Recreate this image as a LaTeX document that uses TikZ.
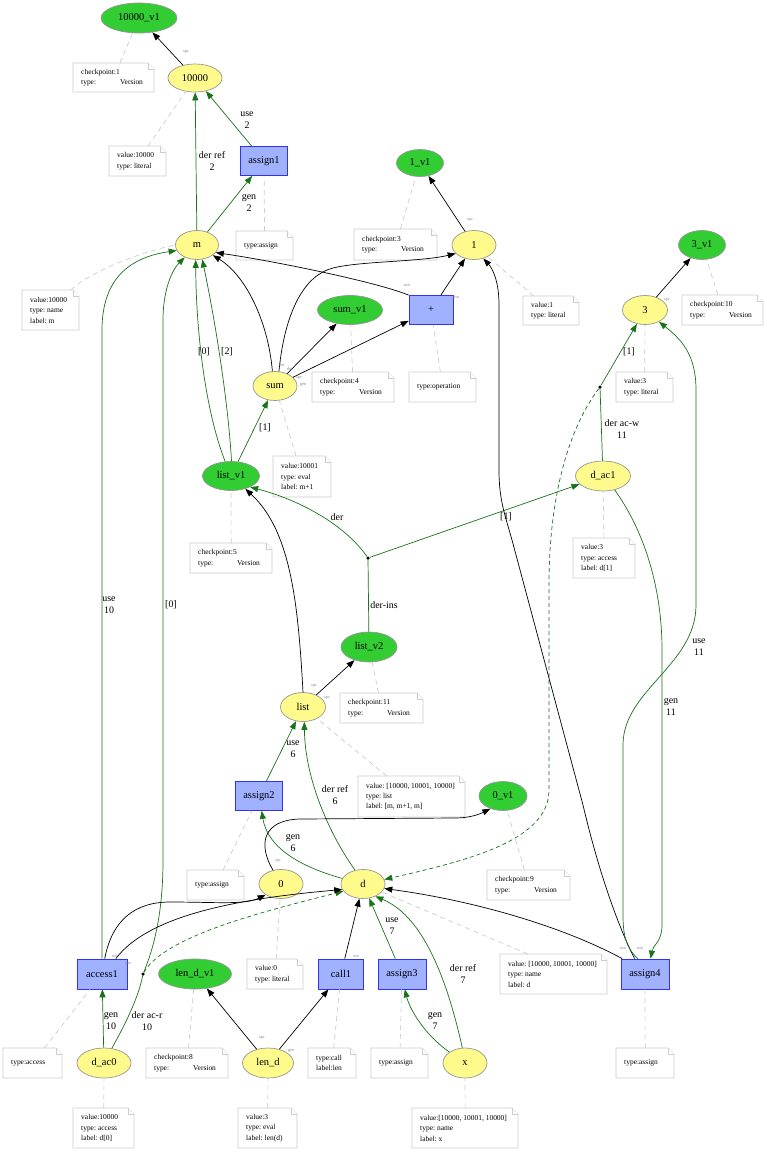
\documentclass[tikz,border=0pt]{standalone}
\usepackage{fontspec}
\setmainfont{Liberation Serif}
\usetikzlibrary{shapes.geometric,arrows.meta}
\definecolor{ylw}{RGB}{255,250,140}
\definecolor{grn}{RGB}{50,205,50}
\definecolor{bfill}{RGB}{160,178,255}
\definecolor{bdraw}{RGB}{50,50,240}
\definecolor{ngray}{RGB}{150,150,150}
\definecolor{eg}{RGB}{25,115,25}
\definecolor{notegray}{RGB}{205,205,205}
\definecolor{tinygray}{RGB}{140,140,140}
\tikzset{
  base/.style={inner sep=0pt, line width=0.7bp, font=\fontsize{10.5}{12}\selectfont},
  ynode/.style={base, ellipse, draw=ngray, fill=ylw},
  gnode/.style={base, ellipse, draw=ngray, fill=grn},
  bnode/.style={base, rectangle, draw=bdraw, fill=bfill},
  jdot/.style={circle, fill=black, inner sep=0pt, minimum size=3.5bp},
  tip/.style={-{Triangle[length=8bp,width=6bp]}},
  blk/.style={draw=black, line width=0.7bp, tip},
  gr/.style={draw=eg, line width=0.7bp, tip, color=eg},
  grd/.style={gr, dash pattern=on 4bp off 3bp},
  grl/.style={draw=eg, line width=0.7bp},
  elab/.style={font=\fontsize{10}{12}\selectfont, align=center, inner sep=0pt},
  tinyl/.style={font=\fontsize{4.5}{5}\selectfont, text=tinygray, inner sep=0pt},
  notebox/.style={draw=notegray, fill=white, line width=0.7bp},
  notelink/.style={draw=notegray, line width=0.7bp, dash pattern=on 5bp off 4bp},
  notetext/.style={font=\fontsize{7.5}{10.5}\selectfont, align=left, anchor=west, inner sep=0pt},
}
\newcommand{\mknote}[6]{%
  \node[inner sep=0pt, minimum width={(#4-#2)*1bp}, minimum height={(#5-#3)*1bp}, anchor=north west] (#1) at (#2,#3) {};
  \draw[notebox] (#2,#3) -- ({#4-6},#3) -- (#4,{#3+6}) -- (#4,#5) -- (#2,#5) -- cycle;
  \draw[notebox] ({#4-6},#3) -- ({#4-6},{#3+6}) -- (#4,{#3+6});
  \node[notetext] at ({#2+8},{(#3+#5)/2}) {#6};
}
\newcommand{\ver}[1]{checkpoint:#1\\type:\hspace{24bp}Version}
\begin{document}
\begin{tikzpicture}[x=1bp,y=-1bp]
\fill[white] (0,0) rectangle (767,1152);
\useasboundingbox (0,0) rectangle (767,1152);

% ---------- nodes ----------
\node[gnode, minimum width=76bp, minimum height=30bp] (n10000v1) at (139,18) {10000\_v1};
\node[ynode, minimum width=54bp, minimum height=28bp] (n10000) at (195,78) {10000};
\node[bnode, minimum width=47bp, minimum height=29bp] (assign1) at (264,161) {assign1};
\node[ynode, minimum width=43bp, minimum height=29bp] (m) at (197,245) {m};
\node[gnode, minimum width=47bp, minimum height=27bp] (n1v1) at (420,163) {1\_v1};
\node[ynode, minimum width=44bp, minimum height=29bp] (n1) at (474,245) {1};
\node[bnode, minimum width=44bp, minimum height=29bp] (plus) at (431,310) {+};
\node[gnode, minimum width=65bp, minimum height=29bp] (sumv1) at (350,310) {sum\_v1};
\node[gnode, minimum width=47bp, minimum height=29bp] (n3v1) at (702,245) {3\_v1};
\node[ynode, minimum width=45bp, minimum height=29bp] (n3) at (645,310) {3};
\node[ynode, minimum width=44bp, minimum height=29bp] (sum) at (275,386) {sum};
\node[gnode, minimum width=57bp, minimum height=29bp] (listv1) at (231,476) {list\_v1};
\node[ynode, minimum width=55bp, minimum height=30bp] (dac1) at (603,476) {d\_ac1};
\node[gnode, minimum width=56bp, minimum height=30bp] (listv2) at (369,647) {list\_v2};
\node[ynode, minimum width=45bp, minimum height=29bp] (list) at (303,707) {list};
\node[bnode, minimum width=47bp, minimum height=29bp] (assign2) at (259,796) {assign2};
\node[gnode, minimum width=48bp, minimum height=29bp] (n0v1) at (503,796) {0\_v1};
\node[ynode, minimum width=44bp, minimum height=29bp] (n0) at (281,884) {0};
\node[ynode, minimum width=44bp, minimum height=29bp] (d) at (363,884) {d};
\node[bnode, minimum width=50bp, minimum height=30bp] (access1) at (102,974) {access1};
\node[gnode, minimum width=73bp, minimum height=30bp] (lendv1) at (195,974) {len\_d\_v1};
\node[bnode, minimum width=45bp, minimum height=30bp] (call1) at (341,974) {call1};
\node[bnode, minimum width=48bp, minimum height=30bp] (assign3) at (402,974) {assign3};
\node[bnode, minimum width=48bp, minimum height=30bp] (assign4) at (645,974) {assign4};
\node[ynode, minimum width=54bp, minimum height=30bp] (dac0) at (104,1063) {d\_ac0};
\node[ynode, minimum width=51bp, minimum height=30bp] (lend) at (268,1063) {len\_d};
\node[ynode, minimum width=44bp, minimum height=30bp] (x) at (465,1063) {x};
\node[jdot] (jA) at (600,387) {};
\node[jdot] (jB) at (368,558) {};
\node[jdot] (jC) at (143,974) {};

% ---------- notes ----------
\mknote{t1}{73}{63}{154}{92}{\ver{1}}
\mknote{t2}{109}{146}{166}{176}{value:10000\\type:\ literal}
\mknote{t3}{236}{231}{293}{260}{type:assign}
\mknote{t4}{22}{290}{79}{330}{value:10000\\type:\ name\\label:\ m}
\mknote{t5}{354}{229}{437}{260}{\ver{3}}
\mknote{t6}{523}{296}{579}{325}{value:1\\type:\ literal}
\mknote{t7}{312}{372}{394}{402}{\ver{4}}
\mknote{t8}{409}{372}{476}{402}{type:operation}
\mknote{t9}{682}{295}{763}{325}{\ver{10}}
\mknote{t10}{616}{372}{673}{402}{value:3\\type:\ literal}
\mknote{t11}{273}{456}{331}{497}{value:10001\\type:\ eval\\label:\ m+1}
\mknote{t12}{190}{543}{272}{573}{\ver{5}}
\mknote{t13}{573}{538}{635}{578}{value:3\\type:\ access\\label:\ d[1]}
\mknote{t14}{340}{693}{423}{723}{\ver{11}}
\mknote{t15}{358}{776}{465}{817}{value:\ [10000, 10001, 10000]\\type:\ list\\label:\ [m, m+1, m]}
\mknote{t16}{187}{870}{244}{900}{type:assign}
\mknote{t17}{487}{870}{570}{900}{\ver{9}}
\mknote{t18}{247}{959}{303}{989}{value:0\\type:\ literal}
\mknote{t19}{500}{954}{607}{994}{value:\ [10000, 10001, 10000]\\type:\ name\\label:\ d}
\mknote{t20}{3}{1048}{62}{1078}{type:access}
\mknote{t21}{146}{1048}{228}{1078}{\ver{8}}
\mknote{t22}{308}{1048}{356}{1078}{type:call\\label:len}
\mknote{t23}{371}{1048}{428}{1078}{type:assign}
\mknote{t24}{616}{1048}{674}{1078}{type:assign}
\mknote{t25}{73}{1108}{134}{1148}{value:10000\\type:\ access\\label:\ d[0]}
\mknote{t26}{238}{1108}{297}{1148}{value:3\\type:\ eval\\label:\ len(d)}
\mknote{t27}{412}{1108}{518}{1148}{value:[10000, 10001, 10000]\\type:\ name\\label:\ x}

% ---------- note links ----------
\draw[notelink] (t1) -- (n10000v1);
\draw[notelink] (t2) -- (n10000);
\draw[notelink] (t3) -- (assign1);
\draw[notelink] ([xshift=20bp]t4.north) .. controls (90,272) and (140,252) .. (m.west);
\draw[notelink] (t5) -- (n1v1);
\draw[notelink] (t6) -- (n1);
\draw[notelink] (t7) -- (sumv1);
\draw[notelink] (t8) -- (plus);
\draw[notelink] (t9) -- (n3v1);
\draw[notelink] (t10) -- (n3);
\draw[notelink] (t11) -- (sum);
\draw[notelink] (t12) -- (listv1);
\draw[notelink] (t13) -- (dac1);
\draw[notelink] (t14) -- (listv2);
\draw[notelink] (t15) -- (list);
\draw[notelink] (t16) -- (assign2);
\draw[notelink] (t17) -- (n0v1);
\draw[notelink] (t18) -- (n0);
\draw[notelink] ([xshift=-26bp]t19.north) -- (d);
\draw[notelink] (t20) -- (access1);
\draw[notelink] (t21) -- (lendv1);
\draw[notelink] (t22) -- (call1);
\draw[notelink] (t23) -- (assign3);
\draw[notelink] (t24) -- (assign4);
\draw[notelink] (t25) -- (dac0);
\draw[notelink] (t26) -- (lend);
\draw[notelink] (t27) -- (x);

% ---------- edges ----------
\draw[blk] (n10000) -- (n10000v1);
\draw[gr] (assign1) -- (n10000);
\draw[gr] (m) -- (n10000);
\draw[gr] (m) -- (assign1);
\draw[blk] (n1) -- (n1v1);
\draw[blk] (n3) -- (n3v1);
\draw[blk] (plus) -- (n1);
\draw[blk] (plus.north west) .. controls (380,283) and (280,262) .. (m.-22);
\draw[blk] (sum.75) .. controls (285,310) and (305,275) .. (333,268) .. controls (361,261) and (420,262) .. (n1.205);
\draw[blk] (sum.100) .. controls (268,320) and (245,275) .. (m.-33);
\draw[blk] (sum) -- (sumv1);
\draw[blk] (sum) -- (plus);
\draw[gr] (listv1.112) .. controls (205,410) and (196,330) .. (m.-95);
\draw[gr] (listv1.88) .. controls (228,400) and (215,320) .. (m.-70);
\draw[gr] (listv1) -- (sum);
\draw[gr] (jB) .. controls (345,525) and (300,500) .. (listv1.-30);
\draw[gr] (jB) -- (dac1);
\draw[grl] (listv2) -- (jB);
\draw[blk] (list) -- (listv2);
\draw[blk] (list.90) .. controls (298,600) and (290,530) .. (listv1.-42);
\draw[gr] (assign2) -- (list);
\draw[gr] (d.120) .. controls (330,835) and (305,780) .. (list.-85);
\draw[gr] (d.165) .. controls (305,868) and (268,850) .. (assign2.-80);
\draw[blk] (n0.120) .. controls (258,845) and (262,820) .. (300,819) -- (455,818) .. controls (470,818) and (480,814) .. (n0v1.225);
\draw[grl] (dac1) -- (jA);
\draw[gr] (jA) -- (n3);
\draw[grd] (jA) .. controls (575,420) and (550,480) .. (549,580) -- (549,790) .. controls (549,840) and (470,860) .. (d.12);
\draw[grl] (dac0.62) .. controls (122,1030) and (138,1000) .. (jC);
\draw[gr] (jC) .. controls (155,945) and (163,910) .. (163,860) -- (163,320) .. controls (163,290) and (172,270) .. (m.225);
\draw[grd] (jC) .. controls (165,935) and (270,910) .. (d.200);
\draw[gr] (access1.north) -- (102,330) .. controls (102,270) and (140,256) .. (m.195);
\draw[gr] (dac0) -- (access1);
\draw[blk] (access1.80) .. controls (112,920) and (135,902) .. (170,902) .. controls (215,902) and (245,905) .. (n0.215);
\draw[blk] (access1.48) .. controls (145,920) and (220,900) .. (d.195);
\draw[blk] (lend) -- (lendv1);
\draw[blk] (lend) -- (call1);
\draw[blk] (call1) -- (d);
\draw[gr] (assign3) -- (d);
\draw[gr] (x.100) .. controls (445,970) and (420,915) .. (d.-45);
\draw[gr] (x.145) .. controls (425,1035) and (410,1010) .. (assign3.-80);
\draw[blk] (assign4.146) .. controls (560,925) and (470,900) .. (d.-12);
\draw[blk] (assign4.124) .. controls (625,940) and (603,890) .. (583,805) -- (512,540) .. controls (505,515) and (499,500) .. (499,470) -- (499,305) .. controls (499,280) and (492,268) .. (n1.-55);
\draw[gr] (assign4.115) .. controls (626,948) and (623,935) .. (623,915) -- (623,745) .. controls (623,690) and (696,665) .. (696,605) -- (696,390) .. controls (696,355) and (682,340) .. (n3.-40);
\draw[gr] (dac1.-50) .. controls (640,525) and (662,580) .. (662,650) -- (662,925) .. controls (662,942) and (653,945) .. (assign4.70);

% ---------- edge labels ----------
\node[elab] (l1) at (247,120) {use\\2};
\node[elab] (l2) at (212,161) {der ref\\2};
\node[elab] (l3) at (249,203) {gen\\2};
\node[elab] (l4) at (204,352) {[0]};
\node[elab] (l5) at (227,352) {[2]};
\node[elab] (l6) at (265,428) {[1]};
\node[elab] (l7) at (337,517) {der};
\node[elab] (l8) at (506,517) {[1]};
\node[elab] (l9) at (384,605) {der-ins};
\node[elab] (l10) at (629,352) {[1]};
\node[elab] (l11) at (622,429) {der ac-w\\11};
\node[elab] (l12) at (293,749) {use\\6};
\node[elab] (l13) at (335,795) {der ref\\6};
\node[elab] (l14) at (293,843) {gen\\6};
\node[elab] (l15) at (109,605) {use\\10};
\node[elab] (l16) at (171,605) {[0]};
\node[elab] (l17) at (111,1021) {gen\\10};
\node[elab] (l18) at (147,1021) {der ac-r\\10};
\node[elab] (l19) at (392,926) {use\\7};
\node[elab] (l20) at (463,974) {der ref\\7};
\node[elab] (l21) at (435,1021) {gen\\7};
\node[elab] (l22) at (699,647) {use\\11};
\node[elab] (l23) at (671,707) {gen\\11};

% ---------- tiny tail labels ----------
\node[tinyl] at (186,52) {spc};
\node[tinyl] at (470,220) {spc};
\node[tinyl] at (407,285) {use};
\node[tinyl] at (456,297) {use};
\node[tinyl] at (282,365) {der};
\node[tinyl] at (290,369) {der};
\node[tinyl] at (299,378) {spc};
\node[tinyl] at (303,385) {gen};
\node[tinyl] at (667,300) {spc};
\node[tinyl] at (314,686) {spc};
\node[tinyl] at (327,698) {spc};
\node[tinyl] at (278,861) {spc};
\node[tinyl] at (115,956) {use};
\node[tinyl] at (128,963) {use};
\node[tinyl] at (356,956) {use};
\node[tinyl] at (262,1038) {spc};
\node[tinyl] at (291,1051) {gen};
\node[tinyl] at (623,948) {use};
\node[tinyl] at (640,948) {use};
\end{tikzpicture}
\end{document}
